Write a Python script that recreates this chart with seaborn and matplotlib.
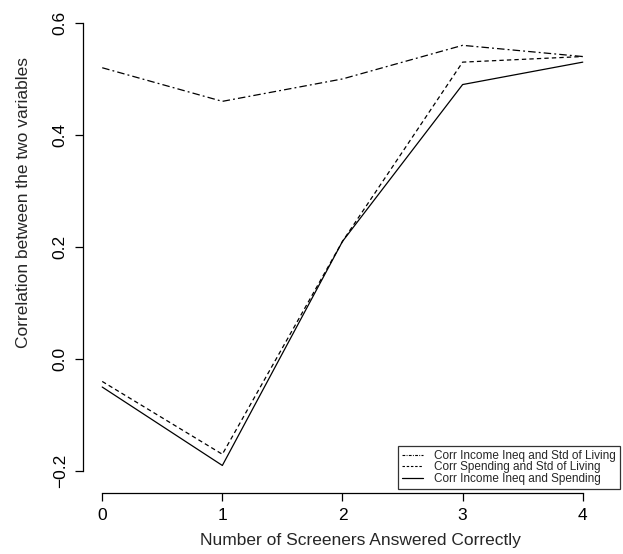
import pandas as pd
import matplotlib
matplotlib.use('Agg')
import matplotlib.pyplot as plt
import seaborn as sns

# values
screeners = [0, 1, 2, 3, 4]
corr_ineq_std = [0.52, 0.46, 0.50, 0.56, 0.54]
corr_spend_std = [-0.04, -0.17, 0.21, 0.53, 0.54]
corr_ineq_spend = [-0.05, -0.19, 0.21, 0.49, 0.53]
series_names = ['Corr Income Ineq and Std of Living',
                'Corr Spending and Std of Living',
                'Corr Income Ineq and Spending']
x_ticks = [0, 1, 2, 3, 4]
y_ticks = [-0.2, 0.0, 0.2, 0.4, 0.6]
y_tick_labels = ['\u22120.2', '0.0', '0.2', '0.4', '0.6']

sns.set_style('white')
plt.rcParams['font.family'] = ['Liberation Sans', 'DejaVu Sans']

df = pd.DataFrame({
    'x': screeners * 3,
    'y': corr_ineq_std + corr_spend_std + corr_ineq_spend,
    'series': [series_names[0]] * 5 + [series_names[1]] * 5 + [series_names[2]] * 5,
})

W, H = 623, 554
fig = plt.figure(figsize=(W / 100, H / 100), dpi=100)
# plot region in pixels (left, top, right, bottom)
L, T, R, B = 83, 5, 620, 489
ax = fig.add_axes([L / W, 1 - B / H, (R - L) / W, (B - T) / H])

dash_map = {series_names[0]: (6, 2.5, 1.5, 2.5),
            series_names[1]: (3.5, 2.5),
            series_names[2]: ''}
sns.lineplot(data=df, x='x', y='y', style='series', dashes=dash_map,
             color='black', linewidth=0.9, ax=ax, legend=False)

ax.set_xlim(-0.16, 4.31)
ax.set_ylim(-0.232, 0.632)

for s in ['top', 'right']:
    ax.spines[s].set_visible(False)
ax.spines['left'].set_bounds(-0.2, 0.6)
ax.spines['bottom'].set_bounds(0, 4)
ax.spines['bottom'].set_position(('outward', 3))
for s in ['left', 'bottom']:
    ax.spines[s].set_color('black')
    ax.spines[s].set_linewidth(0.9)

ax.set_xticks(x_ticks)
ax.set_xticklabels([str(v) for v in x_ticks])
ax.set_yticks(y_ticks)
ax.set_yticklabels(y_tick_labels, rotation=90, va='center')
ax.tick_params(axis='both', direction='out', length=6, width=0.9,
               color='black', labelsize=12.5, labelcolor='black', pad=5, bottom=True, left=True)

ax.set_xlabel('Number of Screeners Answered Correctly', fontsize=12.5)
ax.set_ylabel('Correlation between the two variables', fontsize=12.5)
ax.xaxis.set_label_coords((360 - L) / (R - L), -(541 - B) / (B - T), transform=ax.transAxes)
ax.yaxis.set_label_coords(-(L - 23) / (R - L), (B - 203) / (B - T), transform=ax.transAxes)
ax.xaxis.label.set_va('center')
ax.yaxis.label.set_va('center')

# legend handles with shorter dash patterns, like R's small legend keys
handles = [plt.Line2D([], [], color='black', linewidth=0.8, dashes=(2.5, 1.2, 0.8, 1.2)),
           plt.Line2D([], [], color='black', linewidth=0.8, dashes=(2.2, 1.6)),
           plt.Line2D([], [], color='black', linewidth=0.9)]
leg = ax.legend(handles, series_names, loc='lower right', bbox_to_anchor=(1.0, 0.0),
                fontsize=8.5, frameon=True, fancybox=False, borderaxespad=0,
                handlelength=1.8, handletextpad=0.9, labelspacing=-0.05, borderpad=0.35)
leg.get_frame().set_edgecolor('black')
leg.get_frame().set_linewidth(0.9)

fig.savefig('out.png', dpi=100)
